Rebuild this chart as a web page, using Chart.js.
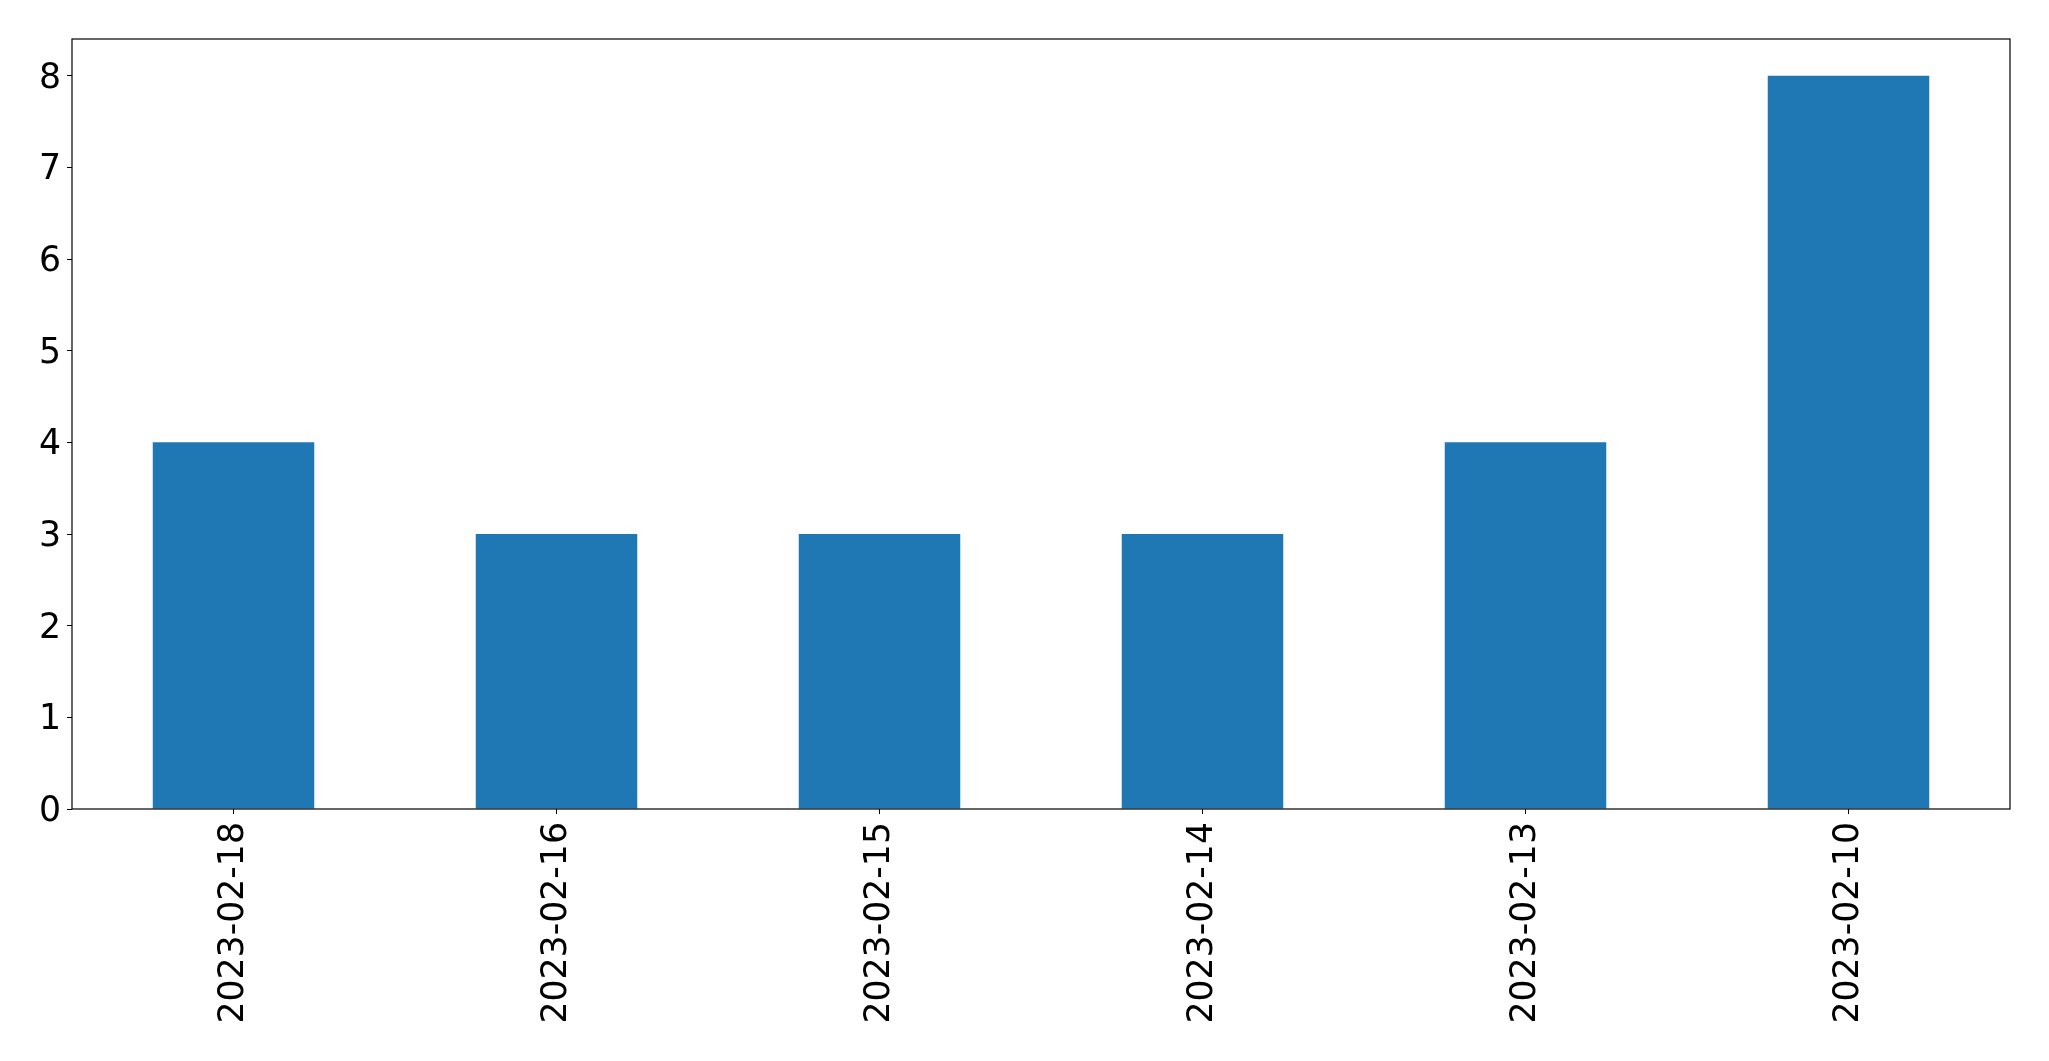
<!DOCTYPE html>
<html>
<head>
<meta charset="utf-8">
<script src="https://cdn.jsdelivr.net/npm/chart.js@4/dist/chart.umd.min.js"></script>
<style>
  html, body { margin: 0; padding: 0; background: #fff; }
  #wrap { width: 2049px; height: 1061px; }
</style>
</head>
<body>
<div id="wrap"><canvas id="grafica" width="2049" height="1061"></canvas></div>
<script>
// Datos del gráfico
const fechas = ["2023-02-18", "2023-02-16", "2023-02-15", "2023-02-14", "2023-02-13", "2023-02-10"];
const cantidades = [4, 3, 3, 3, 4, 8];
const ticksY = [0, 1, 2, 3, 4, 5, 6, 7, 8];

const fuente = { family: "'DejaVu Sans', sans-serif", size: 34.7 };

// Marco negro alrededor del área de la gráfica
const marco = {
  id: "marco",
  afterDraw(chart) {
    const a = chart.chartArea, c = chart.ctx;
    c.save();
    c.strokeStyle = "#000";
    c.lineWidth = 1.2;
    c.strokeRect(a.left, a.top, a.right - a.left, a.bottom - a.top);
    c.restore();
  }
};

const ctx = document.getElementById("grafica").getContext("2d");
new Chart(ctx, {
  type: "bar",
  data: {
    labels: fechas,
    datasets: [{
      data: cantidades,
      backgroundColor: "#1f77b4",
      borderWidth: 0,
      barPercentage: 0.5,
      categoryPercentage: 1
    }]
  },
  options: {
    responsive: false,
    animation: false,
    layout: { padding: { top: 39, right: 39, left: 0, bottom: 0 } },
    plugins: { legend: { display: false }, tooltip: { enabled: false } },
    scales: {
      x: {
        offset: true,
        grid: { display: true, drawOnChartArea: false, drawTicks: true, tickLength: 5, color: "#000", offset: false },
        border: { display: false },
        ticks: { color: "#000", font: fuente, minRotation: 90, maxRotation: 90, padding: 8, autoSkip: false },
        afterFit(s) { s.height = 252; }
      },
      y: {
        min: 0,
        max: 8.4,
        grid: { display: true, drawOnChartArea: false, drawTicks: true, tickLength: 5, color: "#000" },
        border: { display: false },
        ticks: {
          color: "#000", font: fuente, stepSize: 1, padding: 6, includeBounds: false, labelOffset: 3,
          callback: (v) => ticksY.includes(v) ? String(v) : ""
        },
        afterFit(s) { s.width = 72; }
      }
    }
  },
  plugins: [marco]
});
</script>
</body>
</html>
